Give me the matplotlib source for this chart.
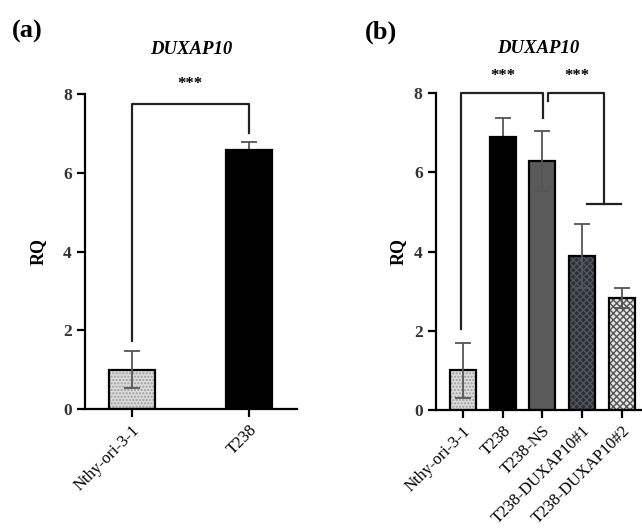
import numpy as np
import matplotlib.pyplot as plt

plt.rcParams['font.family'] = ['Liberation Serif', 'DejaVu Serif']

# panel (a)
cats_a = ['Nthy-ori-3-1', 'T238']
rq_a = [1.0, 6.57]
err_a = [0.47, 0.2]

# panel (b)
cats_b = ['Nthy-ori-3-1', 'T238', 'T238-NS', 'T238-DUXAP10#1', 'T238-DUXAP10#2']
rq_b = [1.0, 6.89, 6.29, 3.89, 2.83]
err_b = [0.7, 0.48, 0.76, 0.8, 0.25]

gene = 'DUXAP10'

fills_a = [('#dcdcdc', '.....', '#9a9a9a'), ('black', None, 'black')]
fills_b = [('#dcdcdc', '.....', '#9a9a9a'), ('black', None, 'black'),
           ('#5a5a5a', None, '#5a5a5a'), ('#2b3038', 'xxxxx', '#4f565e'),
           ('#e6e6e6', 'xxxxx', '#555555')]


def bars(ax, cats, vals, errs, fills, w, lpad):
    x = np.arange(len(cats))
    for i in range(len(cats)):
        fc, h, hc = fills[i]
        ax.bar(x[i], vals[i], w, color=fc, hatch=h, edgecolor=hc, linewidth=0, zorder=2)
        ax.bar(x[i], vals[i], w, fill=False, edgecolor='black', linewidth=1.6, zorder=3)
        # error bar hidden inside the black bars
        z = 1 if fc == 'black' else 4
        ax.errorbar(x[i], vals[i], yerr=errs[i], fmt='none', ecolor='#555555',
                    elinewidth=1.3, capsize=6, capthick=1.3, zorder=z)
    ax.set_xticks(x)
    ax.set_xticklabels(cats, rotation=45, ha='right', rotation_mode='anchor', fontsize=12)
    ax.set_ylim(0, 8)
    ax.set_yticks([0, 2, 4, 6, 8])
    for lb in ax.get_yticklabels():
        lb.set_fontweight('bold')
        lb.set_fontsize(12.5)
        lb.set_color('#333333')
    ax.set_ylabel('RQ', fontsize=13, fontweight='bold', labelpad=lpad)
    for s in ['top', 'right']:
        ax.spines[s].set_visible(False)
    for s in ['left', 'bottom']:
        ax.spines[s].set_linewidth(1.6)
    ax.tick_params(width=1.6, length=6)
    ax.set_title(gene, fontsize=13.5, fontweight='bold', style='italic', pad=29)


def line(ax, xs, ys):
    ax.plot(xs, ys, color='#222222', lw=1.6, clip_on=False, zorder=5)


fig = plt.figure(figsize=(6.42, 5.32), dpi=100)
ax1 = fig.add_axes([0.1324, 0.2312, 0.330, 0.592])
ax2 = fig.add_axes([0.679, 0.2293, 0.3194, 0.5957])

bars(ax1, cats_a, rq_a, err_a, fills_a, 0.39, 12)
ax1.set_xlim(-0.40, 1.41)
line(ax1, [0, 0, 1, 1], [1.73, 7.74, 7.74, 7.0])
ax1.text(0.5, 8.05, '***', ha='center', va='bottom', fontsize=12, fontweight='bold')

bars(ax2, cats_b, rq_b, err_b, fills_b, 0.65, 5)
ax2.set_xlim(-0.675, 4.475)
line(ax2, [-0.05, -0.05, 2.02, 2.02], [2.05, 8.0, 8.0, 7.37])
line(ax2, [2.15, 2.15, 3.55, 3.55], [7.8, 8.0, 8.0, 5.2])
line(ax2, [3.12, 3.97], [5.2, 5.2])
ax2.text(1.0, 8.22, '***', ha='center', va='bottom', fontsize=12, fontweight='bold')
ax2.text(2.87, 8.22, '***', ha='center', va='bottom', fontsize=12, fontweight='bold')

fig.text(0.018, 0.94, '(a)', fontsize=19, fontweight='bold', va='center')
fig.text(0.568, 0.94, '(b)', fontsize=19, fontweight='bold', va='center')

fig.savefig('out.png', dpi=100)
